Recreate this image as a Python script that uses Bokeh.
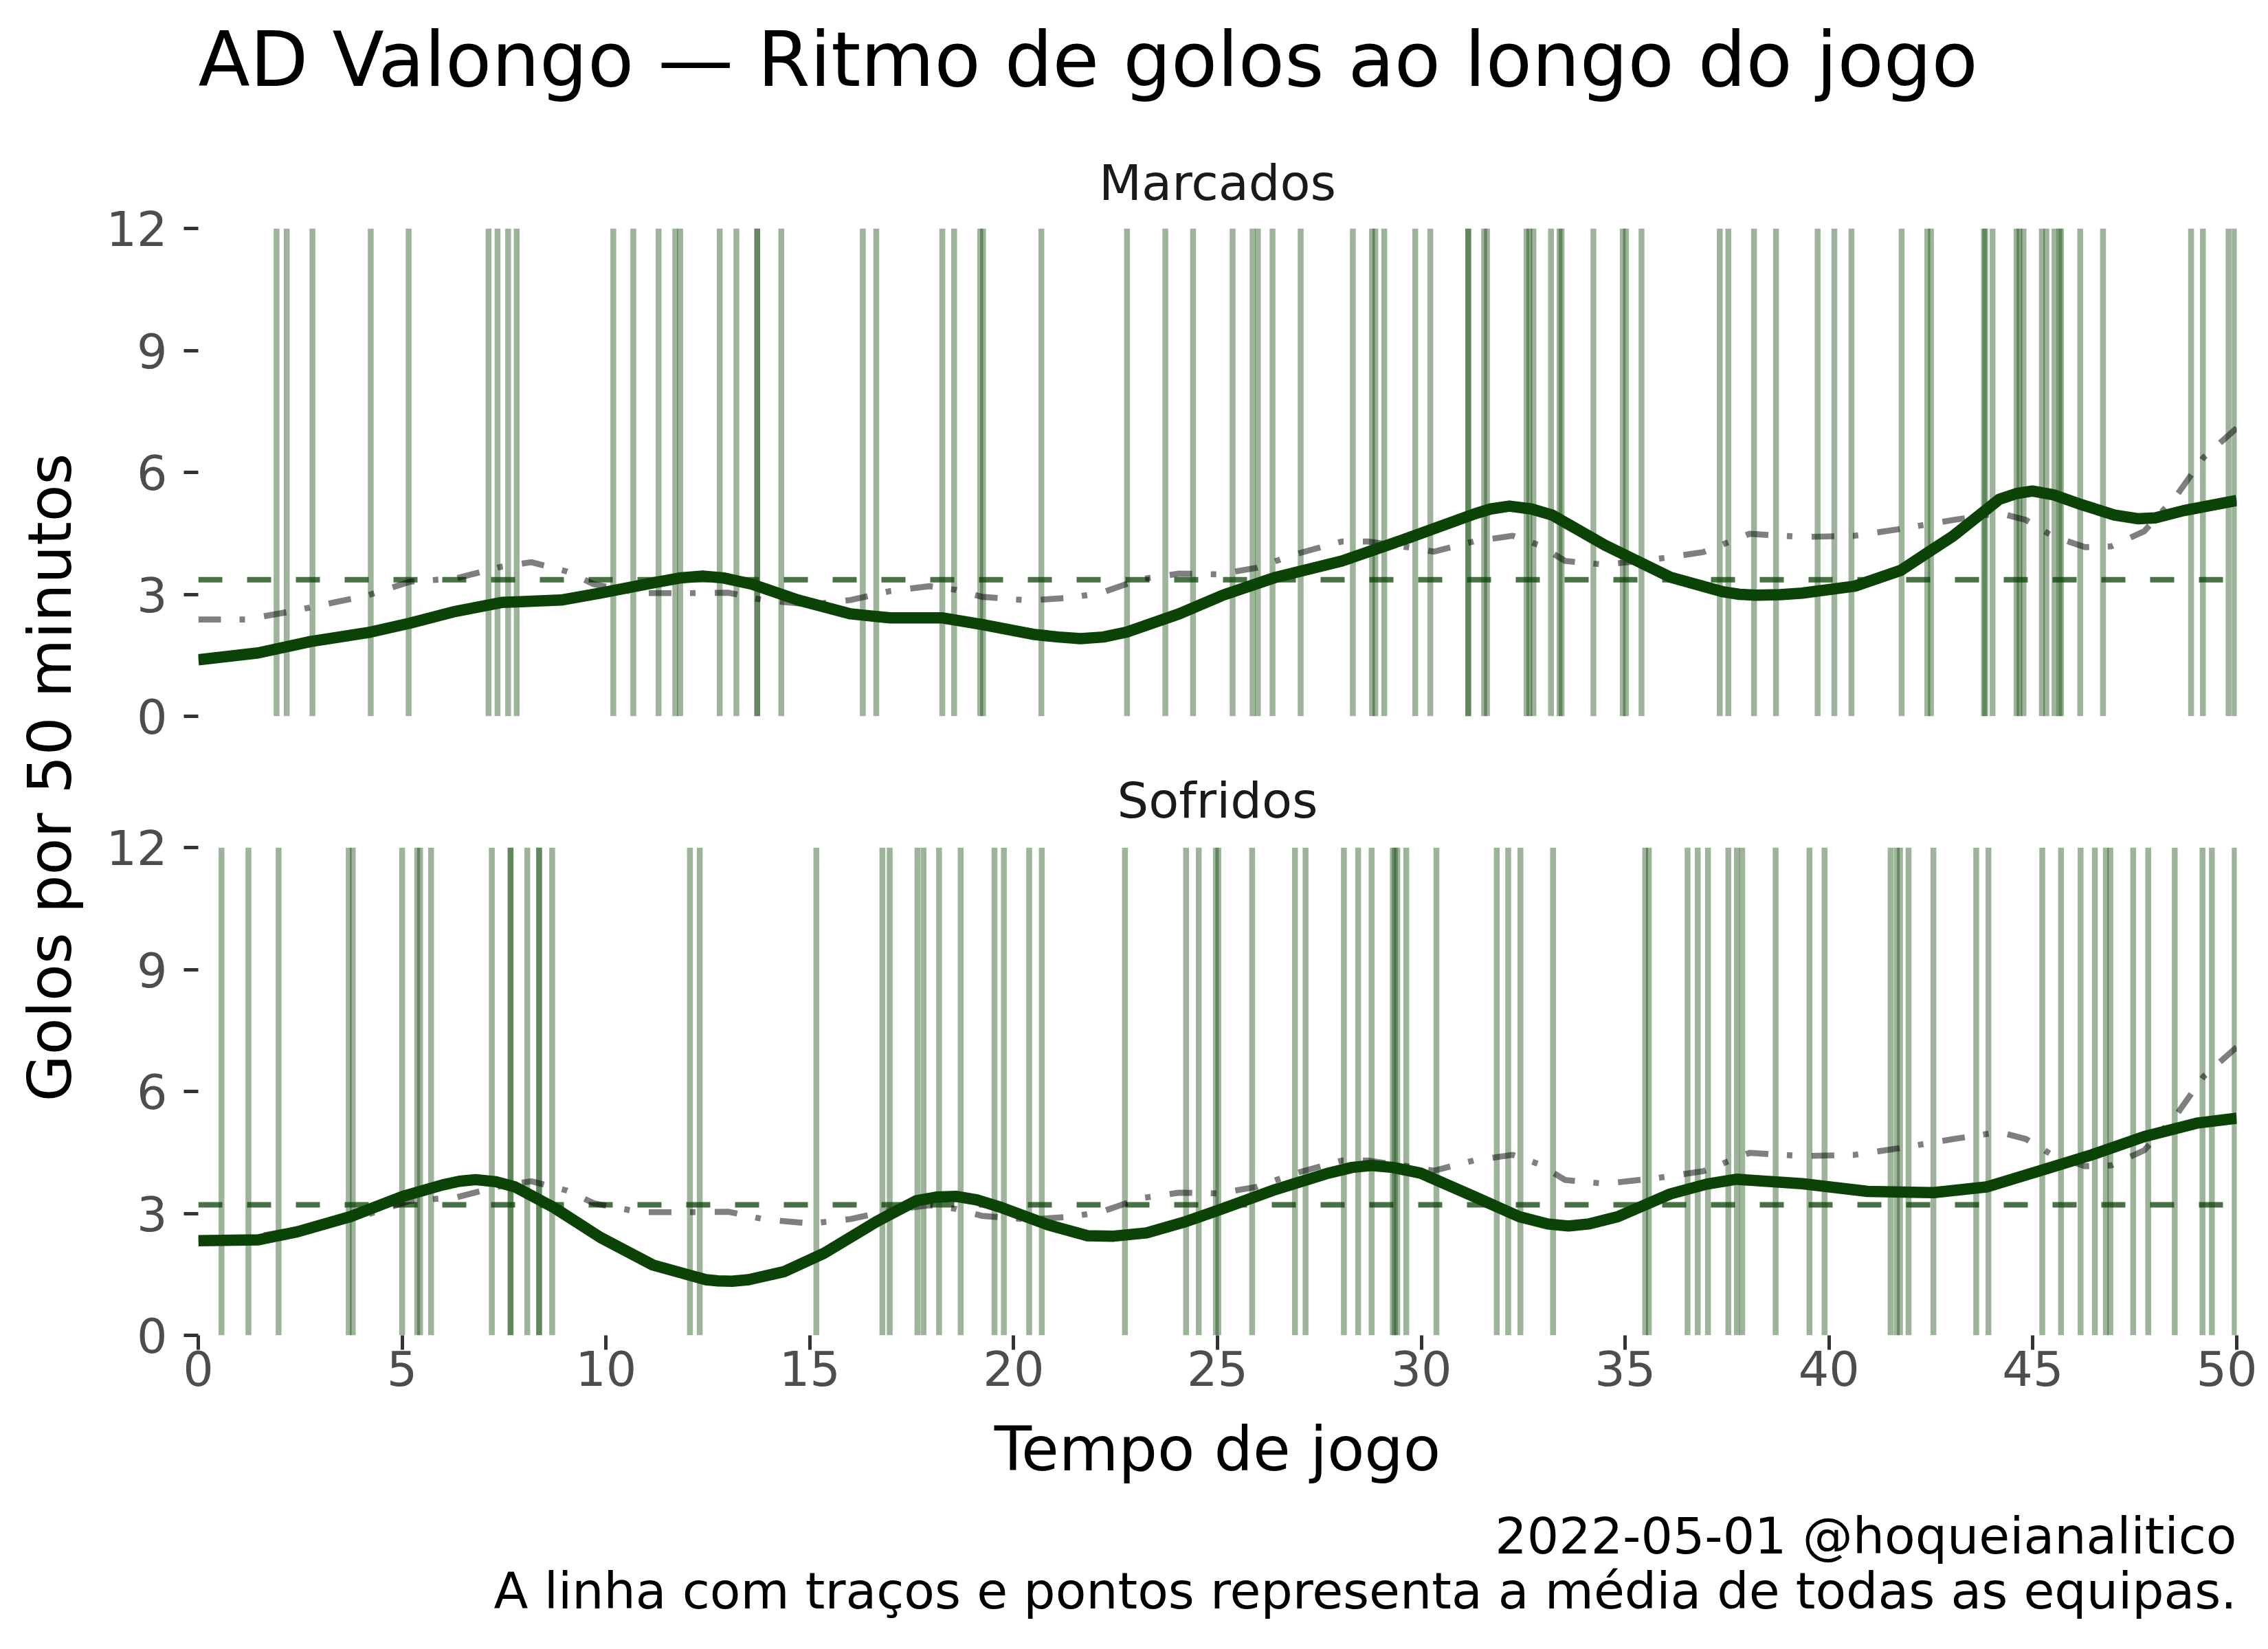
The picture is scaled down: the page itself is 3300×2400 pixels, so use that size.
import math
from bokeh.plotting import figure
from bokeh.layouts import row, column
from bokeh.models import Range1d, FixedTicker, Title
from bokeh.core.properties import value
from bokeh.embed import file_html
from bokeh.resources import INLINE

# ---------------- data ----------------
title_text = "AD Valongo — Ritmo de golos ao longo do jogo"
panel_names = ["Marcados", "Sofridos"]
x_label = "Tempo de jogo"
y_label = "Golos por 50 minutos"
caption_lines = ["2022-05-01 @hoqueianalitico",
                 "A linha com traços e pontos representa a média de todas as equipas."]
x_ticks = [0, 5, 10, 15, 20, 25, 30, 35, 40, 45, 50]
y_ticks = [0, 3, 6, 9, 12]
x_limits = [0, 50]
y_limits = [0, 12]

# minutes of each goal
goals_marcados = [1.92, 2.17, 2.80, 4.23, 5.16, 7.12, 7.34, 7.60, 7.81, 10.18, 10.67, 11.29,
                  11.70, 11.82, 12.79, 13.20, 13.71, 13.71, 14.30, 16.30, 16.63, 18.25, 18.54,
                  19.18, 19.25, 20.68, 22.78, 23.72, 24.40, 25.37, 25.86, 25.99, 26.35, 27.04,
                  28.32, 28.79, 28.87, 29.09, 29.85, 30.22, 31.15, 31.15, 31.54, 31.61, 32.58,
                  32.65, 32.75, 33.18, 33.39, 33.44, 34.22, 34.94, 35.02, 35.40, 37.32, 37.53,
                  38.16, 38.70, 39.72, 40.13, 40.55, 41.78, 42.41, 42.50, 43.80, 43.83, 44.01,
                  44.60, 44.67, 44.77, 45.22, 45.33, 45.53, 45.65, 45.69, 46.16, 46.72, 48.88,
                  49.17, 49.80, 49.95]
goals_sofridos = [0.57, 1.23, 1.97, 3.69, 3.79, 5.00, 5.37, 5.44, 5.71, 7.20, 7.66, 7.66, 8.07,
                  8.36, 8.36, 8.68, 12.06, 12.30, 15.16, 16.78, 16.96, 17.64, 17.79, 18.17,
                  18.70, 19.53, 19.76, 20.38, 20.69, 22.73, 24.23, 24.54, 24.96, 25.02, 25.85,
                  26.90, 27.16, 28.10, 28.45, 28.78, 29.30, 29.35, 29.41, 29.63, 30.37, 31.85,
                  32.13, 32.43, 33.23, 35.49, 35.58, 36.53, 36.78, 37.03, 37.53, 37.74, 37.87,
                  38.69, 39.52, 39.89, 41.51, 41.66, 41.74, 41.95, 42.56, 43.61, 43.91, 45.23,
                  45.69, 46.17, 46.52, 46.79, 46.90, 47.46, 47.83, 48.48, 49.16, 49.39, 49.95]

# smoothed team rate (goals per 50 minutes)
team_marcados_x = [0, 1.47, 2.76, 4.22, 5.19, 6.31, 7.44, 8.90, 9.87, 11.15, 11.8, 12.37, 12.9,
                   13.58, 14.71, 16.0, 16.97, 18.26, 19.22, 20.52, 21.1, 21.64, 22.2, 22.77,
                   24.06, 25.11, 26.43, 28.05, 29.66, 31.28, 31.7, 32.16, 32.7, 33.21, 34.50,
                   36.11, 37.41, 37.8, 38.21, 38.8, 39.34, 40.63, 41.76, 43.05, 44.18, 44.6,
                   44.99, 45.5, 46.12, 47.0, 47.57, 48.0, 48.70, 50]
team_marcados_y = [1.39, 1.56, 1.84, 2.07, 2.29, 2.58, 2.80, 2.86, 3.03, 3.28, 3.40, 3.45, 3.40,
                   3.25, 2.86, 2.52, 2.42, 2.42, 2.26, 2.01, 1.95, 1.91, 1.95, 2.07,
                   2.52, 2.97, 3.42, 3.82, 4.38, 4.97, 5.10, 5.17, 5.10, 4.95, 4.21,
                   3.42, 3.06, 3.00, 2.98, 2.99, 3.03, 3.20, 3.59, 4.44, 5.34, 5.48,
                   5.54, 5.45, 5.23, 4.95, 4.86, 4.88, 5.06, 5.31]
team_sofridos_x = [0, 1.47, 2.44, 3.73, 5.02, 5.99, 6.4, 6.80, 7.3, 7.77, 8.73, 9.86, 11.15,
                   12.45, 12.75, 13.09, 13.5, 14.38, 15.35, 16.64, 17.61, 18.1, 18.58, 19.1,
                   19.71, 20.84, 21.81, 22.45, 23.26, 24.23, 25.11, 26.43, 27.72, 28.3, 28.77,
                   29.3, 29.98, 31.28, 32.40, 33.1, 33.61, 34.1, 34.82, 36.11, 37.0, 37.72,
                   39.34, 40.95, 42.57, 43.86, 45.15, 46.44, 47.73, 49.02, 50]
team_sofridos_y = [2.33, 2.35, 2.55, 2.92, 3.42, 3.70, 3.79, 3.83, 3.78, 3.65, 3.14, 2.41, 1.73,
                   1.37, 1.34, 1.33, 1.37, 1.57, 2.02, 2.80, 3.31, 3.40, 3.42, 3.33,
                   3.14, 2.72, 2.45, 2.44, 2.52, 2.80, 3.11, 3.59, 3.99, 4.13, 4.18,
                   4.13, 3.99, 3.42, 2.92, 2.74, 2.69, 2.74, 2.92, 3.48, 3.72, 3.84,
                   3.73, 3.54, 3.51, 3.65, 4.04, 4.44, 4.89, 5.22, 5.34]

# league average (all teams)
avg_x = [0, 1.15, 2.28, 3.33, 4.14, 5.19, 6.31, 7.44, 8.17, 9.05, 9.70, 10.83, 12.12, 13.01,
         13.90, 15.03, 16.0, 16.97, 17.93, 18.58, 19.22, 20.36, 21.32, 22.13, 23.10, 24.06,
         25.03, 25.95, 26.92, 28.05, 28.69, 29.66, 30.31, 31.28, 32.24, 32.89, 33.53, 34.50,
         35.79, 36.92, 38.05, 39.34, 40.63, 41.76, 43.05, 44.18, 44.83, 45.47, 46.28, 46.92,
         47.73, 48.54, 49.18, 50]
avg_y = [2.38, 2.38, 2.58, 2.80, 2.97, 3.31, 3.39, 3.68, 3.79, 3.56, 3.25, 3.03, 3.03, 3.04,
         2.85, 2.75, 2.86, 3.08, 3.20, 3.11, 2.94, 2.85, 2.91, 3.03, 3.37, 3.51,
         3.49, 3.65, 3.99, 4.30, 4.30, 4.16, 4.05, 4.30, 4.44, 4.21, 3.82, 3.73,
         3.87, 4.04, 4.49, 4.41, 4.44, 4.61, 4.83, 5.00, 4.83, 4.44, 4.16, 4.18,
         4.55, 5.45, 6.36, 7.09]

# team mean rate (dashed horizontal line)
mean_marcados = 3.36
mean_sofridos = 3.21

# ---------------- styling / layout ----------------
FONT = "DejaVu Sans"
TEAM = "#0b4306"

LEFT_W = 148
COL_W = 3284 - LEFT_W
BL, BR = 140, 30
FRAME_W = COL_W - BL - BR
FRAME_H = 710


def text_fig(w, h, bl=0, br=0):
    f = figure(width=w, height=h, x_range=Range1d(0, w - bl - br), y_range=Range1d(0, h),
               output_backend="svg", toolbar_location=None,
               x_axis_location=None, y_axis_location=None, min_border=0,
               min_border_left=bl, min_border_right=br)
    f.outline_line_color = None
    f.background_fill_color = "white"
    f.border_fill_color = "white"
    f.grid.visible = False
    return f


def panel(name, goals, tx, ty, mean, shared_x, with_xaxis, b_top, b_bottom, strip_standoff):
    kw = dict(width=COL_W, height=b_top + FRAME_H + b_bottom, output_backend="svg",
              toolbar_location=None, y_range=Range1d(*y_limits),
              min_border_left=BL, min_border_right=BR, min_border_top=b_top,
              min_border_bottom=b_bottom)
    kw["x_range"] = Range1d(*x_limits) if shared_x is None else shared_x
    if not with_xaxis:
        kw["x_axis_location"] = None
    p = figure(**kw)
    p.outline_line_color = None
    p.background_fill_color = "white"
    p.border_fill_color = "white"
    p.grid.visible = False

    p.add_layout(Title(text=name, align="center", vertical_align="middle",
                       text_font=FONT, text_font_size="72px", text_font_style="normal",
                       text_color="#1a1a1a", standoff=strip_standoff), "above")

    p.segment(x0=goals, y0=y_limits[0], x1=goals, y1=y_limits[1],
              line_color=TEAM, line_alpha=0.4, line_width=8.5)
    p.line(x=x_limits, y=[mean, mean], line_color=TEAM, line_alpha=0.75,
           line_width=8, line_dash="35 36")
    p.line(x=avg_x, y=avg_y, line_color="black", line_alpha=0.5, line_width=8.7,
           line_dash="33 27 8 28")
    p.line(x=tx, y=ty, line_color=TEAM, line_width=16.5, line_join="round")

    ya = p.yaxis[0]
    ya.ticker = FixedTicker(ticks=y_ticks)
    ya.axis_line_color = None
    ya.major_tick_line_color = "#333333"
    ya.major_tick_line_width = 5
    ya.major_tick_out = 21
    ya.major_tick_in = 0
    ya.minor_tick_line_color = None
    ya.major_label_standoff = 24
    ya.major_label_text_font = FONT
    ya.major_label_text_font_size = "70px"
    ya.major_label_text_color = "#4d4d4d"

    if with_xaxis:
        xa = p.xaxis[0]
        xa.ticker = FixedTicker(ticks=x_ticks)
        xa.axis_line_color = None
        xa.major_tick_line_color = "#333333"
        xa.major_tick_line_width = 5
        xa.major_tick_out = 21
        xa.major_tick_in = 0
        xa.minor_tick_line_color = None
        xa.major_label_standoff = 1
        xa.major_label_text_font = FONT
        xa.major_label_text_font_size = "70px"
        xa.major_label_text_color = "#4d4d4d"
        xa.axis_label = x_label
        xa.axis_label_text_font = FONT
        xa.axis_label_text_font_size = "89px"
        xa.axis_label_text_font_style = "normal"
        xa.axis_label_text_color = "black"
        xa.axis_label_standoff = 37
    return p


# header: main title
header = text_fig(COL_W, 160, BL, BR)
header.text(x=[0], y=[74], text=[title_text], text_font=value(FONT),
            text_font_size=value("110px"), text_color="black",
            text_align="left", text_baseline="middle")

top = panel(panel_names[0], goals_marcados, team_marcados_x, team_marcados_y, mean_marcados,
            None, False, 172, 45, 48)
bottom = panel(panel_names[1], goals_sofridos, team_sofridos_x, team_sofridos_y, mean_sofridos,
               top.x_range, True, 146, 235, 52)

footer = text_fig(COL_W, 206, BL, BR)
footer.text(x=[FRAME_W, FRAME_W], y=[149, 69], text=caption_lines,
            text_font=value(FONT), text_font_size=value("73px"), text_color="black",
            text_align="right", text_baseline="middle")

left = text_fig(LEFT_W, 2384)
left.text(x=[72], y=[1253], text=[y_label], text_font=value(FONT),
          text_font_size=value("88px"), text_color="black", angle=math.pi / 2,
          text_align="center", text_baseline="middle")

layout = row(left, column(header, top, bottom, footer))

open("out.html", "w").write(file_html(layout, INLINE))
